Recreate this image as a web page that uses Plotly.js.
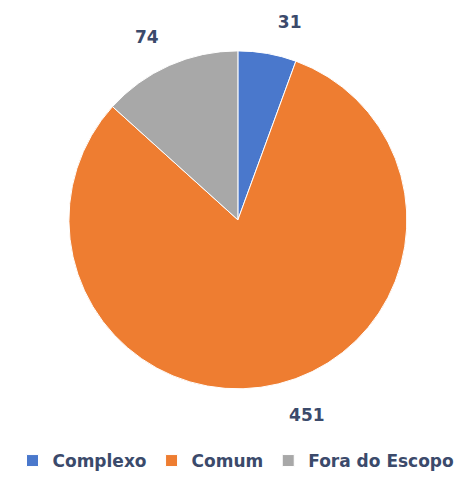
<!DOCTYPE html>
<html>
<head>
<meta charset="utf-8">
<script src="https://cdn.plot.ly/plotly-3.0.1.min.js"></script>
<style>html,body{margin:0;padding:0;background:#fff;}#chart{width:472px;height:479px;}</style>
</head>
<body>
<div id="chart"></div>
<script>
const categories = ["Complexo", "Comum", "Fora do Escopo"];
const values = [31, 451, 74];
const colors = ["#4a78cc", "#ee7d31", "#a8a8a8"];
const labelTemplates = ["%{value}<br> ", " <br>%{value}", "%{value}<br> "];

const trace = {
  type: "pie",
  labels: categories,
  values: values,
  sort: false,
  direction: "clockwise",
  rotation: 0,
  textinfo: "value",
  texttemplate: labelTemplates,
  textposition: "outside",
  textfont: {family: "DejaVu Sans, sans-serif", size: 17, color: "#3b4a6b", weight: "bold"},
  marker: {colors: colors, line: {color: "#ffffff", width: 1}},
  domain: {x: [0.146, 0.862], y: [0.188, 0.894]},
  hoverinfo: "label+value",
  automargin: false
};

const layout = {
  width: 472,
  height: 479,
  margin: {l: 0, r: 0, t: 0, b: 0},
  paper_bgcolor: "#ffffff",
  showlegend: true,
  legend: {
    orientation: "h",
    x: 0.5, xanchor: "center",
    y: 0, yanchor: "bottom",
    font: {family: "DejaVu Sans, sans-serif", size: 17, color: "#3b4a6b", weight: "bold"},
    itemwidth: 30,
    traceorder: "normal"
  }
};

Plotly.newPlot("chart", [trace], layout, {displayModeBar: false, staticPlot: true});
</script>
</body>
</html>
